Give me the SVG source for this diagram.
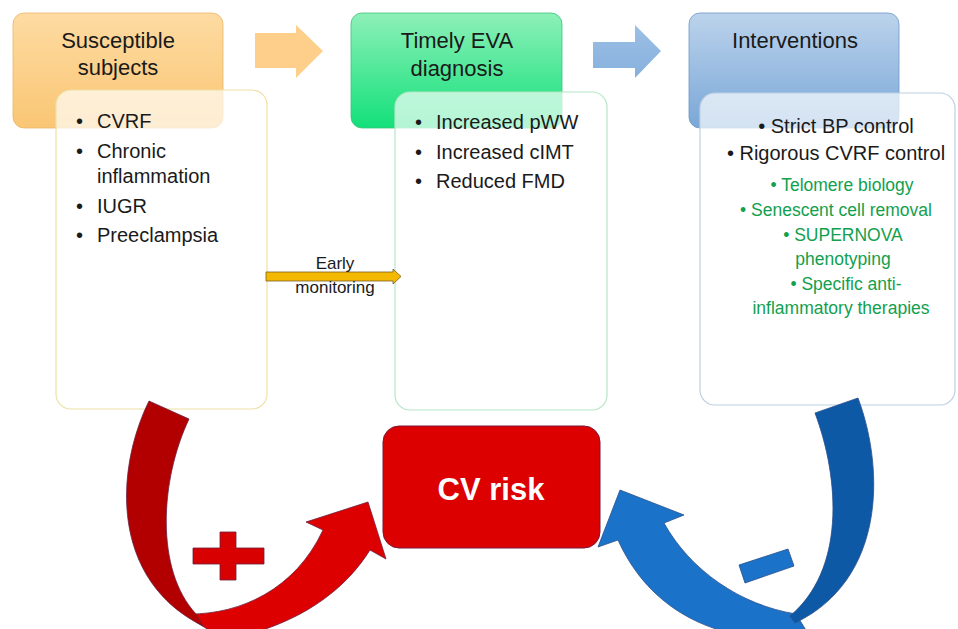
<svg xmlns="http://www.w3.org/2000/svg" width="958" height="629" viewBox="0 0 958 629">
<defs>
<linearGradient id="gOr" x1="0" y1="0" x2="0" y2="1"><stop offset="0" stop-color="#fedba2"/><stop offset="1" stop-color="#f9c674"/></linearGradient>
<linearGradient id="gGr" x1="0" y1="0" x2="0" y2="1"><stop offset="0" stop-color="#8ef0b8"/><stop offset="1" stop-color="#12e07a"/></linearGradient>
<linearGradient id="gBl" x1="0" y1="0" x2="0" y2="1"><stop offset="0" stop-color="#bcd3ec"/><stop offset="1" stop-color="#79a7d7"/></linearGradient>
<linearGradient id="gBA" x1="0" y1="0" x2="0" y2="1"><stop offset="0" stop-color="#9cc0e6"/><stop offset="1" stop-color="#86b0dc"/></linearGradient>
<style>
text{font-family:"Liberation Sans",Arial,sans-serif;fill:#1a1a1a}
.title{font-size:22px;text-anchor:middle}
.item{font-size:20px}
.ctr{font-size:20px;text-anchor:middle}
.grn{font-size:17.5px;text-anchor:middle;fill:#12a04e}
.lbl{font-size:17px;text-anchor:middle}
.panel{fill:#ffffff;fill-opacity:0.68;stroke-width:1.2}
.red{stroke:#6b1f3f;stroke-width:0.8}
.blu{stroke:#2a4f8a;stroke-width:0.8}
</style>
</defs>
<rect width="958" height="629" fill="#ffffff"/>

<g id="header-susceptible">
<rect x="13" y="13" width="210" height="115" rx="11" fill="url(#gOr)" stroke="#e9b86a" stroke-width="0.8"/>
<text class="title" x="118" y="48">Susceptible</text>
<text class="title" x="118" y="75">subjects</text>
</g>
<g id="header-eva">
<rect x="351" y="13" width="211" height="115" rx="11" fill="url(#gGr)" stroke="#3cc47a" stroke-width="0.8"/>
<text class="title" x="457" y="48">Timely EVA</text>
<text class="title" x="457" y="76">diagnosis</text>
</g>
<g id="header-interventions">
<rect x="689" y="13" width="210" height="115" rx="11" fill="url(#gBl)" stroke="#6f98c6" stroke-width="0.8"/>
<text class="title" x="795" y="48">Interventions</text>
</g>

<g id="panel-susceptible">
<rect class="panel" x="56" y="90" width="211" height="319" rx="15" stroke="#efe0a6"/>
<text class="item" x="76" y="128">•</text><text class="item" x="97" y="128">CVRF</text>
<text class="item" x="76" y="158">•</text><text class="item" x="97" y="158">Chronic</text>
<text class="item" x="97" y="183">inflammation</text>
<text class="item" x="76" y="213">•</text><text class="item" x="97" y="213">IUGR</text>
<text class="item" x="76" y="242">•</text><text class="item" x="97" y="242">Preeclampsia</text>
</g>
<g id="panel-eva">
<rect class="panel" x="395" y="92" width="212" height="318" rx="15" stroke="#b6e6c6"/>
<text class="item" x="415" y="129">•</text><text class="item" x="436" y="129">Increased pWW</text>
<text class="item" x="415" y="159">•</text><text class="item" x="436" y="159">Increased cIMT</text>
<text class="item" x="415" y="188">•</text><text class="item" x="436" y="188">Reduced FMD</text>
</g>
<g id="panel-interventions">
<rect class="panel" x="700" y="93" width="255" height="312" rx="15" stroke="#bcd0e2"/>
<text class="ctr" x="836" y="133">• Strict BP control</text>
<text class="ctr" x="836" y="160">• Rigorous CVRF control</text>
<text class="grn" x="842" y="191">• Telomere biology</text>
<text class="grn" x="836" y="216">• Senescent cell removal</text>
<text class="grn" x="843" y="241">• SUPERNOVA</text>
<text class="grn" x="843" y="265">phenotyping</text>
<text class="grn" x="846" y="290">• Specific anti-</text>
<text class="grn" x="841" y="314">inflammatory therapies</text>
</g>

<g id="cv-risk">
<rect x="383" y="426" width="217" height="122" rx="16" fill="#dc0000" stroke="#7a1838" stroke-width="1"/>
<text x="491" y="500" style="font-size:31px;font-weight:bold;fill:#ffffff;text-anchor:middle">CV risk</text>
</g>

<g id="connectors">
<path d="M255,33 L296,33 L296,25 L323,51 L296,78 L296,68 L255,68 Z" fill="#fdcf8a"/>
<path d="M593,42 L635,42 L635,25 L661,51 L635,78 L635,68 L593,68 Z" fill="url(#gBA)"/>
<path d="M266,272 L393,272 L393,269 L401,276.5 L393,284 L393,281 L266,281 Z" fill="#f5b800" stroke="#7a6020" stroke-width="0.8"/>
<text class="lbl" x="335" y="269">Early</text>
<text class="lbl" x="335" y="293">monitoring</text>

<path class="red" d="M190,614 C240,614 295,590 323,530 L306,522 L368,502 L386,559 L370,550 C345,590 300,625 225,640 L196,622 Z" fill="#dd0000"/>
<path class="red" d="M149,401 L189,419 C160,480 155,570 196,614 L203,626 C110,580 115,470 149,401 Z" fill="#b20000"/>
<path class="red" d="M220,532 L236,532 L236,548 L264,548 L264,564 L236,564 L236,580 L220,580 L220,564 L193,564 L193,548 L220,548 Z" fill="#d80000"/>

<path class="blu" d="M664,523 C690,570 740,605 796,614 L812,640 L790,640 C700,640 645,600 618,540 L598,547 L620,490 L684,515 Z" fill="#1b72c9"/>
<path class="blu" d="M815,413 L858,398 C885,470 885,580 795,623 L790,616 C845,570 840,480 815,413 Z" fill="#0d59a6"/>
<path class="blu" d="M739,565 L788,549 L794,566 L745,583 Z" fill="#1b72c9"/>
</g>
</svg>
